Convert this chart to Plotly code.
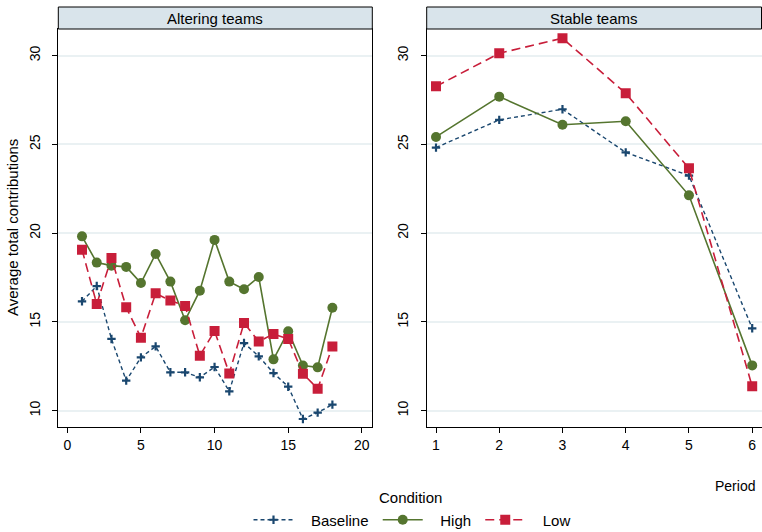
import plotly.graph_objects as go

periods_alt = list(range(1, 19))
baseline_alt = [16.16, 17.02, 14.04, 11.69, 13.00, 13.62, 12.16, 12.16, 11.88, 12.46,
                11.09, 13.81, 13.06, 12.12, 11.35, 9.53, 9.89, 10.34]
high_alt = [19.82, 18.34, 18.17, 18.10, 17.19, 18.83, 17.27, 15.09, 16.76, 19.62,
            17.27, 16.84, 17.53, 12.89, 14.47, 12.54, 12.44, 15.80]
low_alt = [19.07, 16.01, 18.60, 15.82, 14.11, 16.61, 16.20, 15.90, 13.10, 14.49,
           12.10, 14.94, 13.89, 14.32, 14.04, 12.08, 11.24, 13.61]

periods_stb = [1, 2, 3, 4, 5, 6]
baseline_stb = [24.82, 26.38, 26.98, 24.55, 23.24, 14.64]
high_stb = [25.42, 27.69, 26.11, 26.30, 22.13, 12.55]
low_stb = [28.27, 30.13, 30.98, 27.88, 23.65, 11.37]

panel_titles = ["Altering teams", "Stable teams"]
series_names = ["Baseline", "High", "Low"]
y_ticks = [10, 15, 20, 25, 30]
x_ticks_alt = [0, 5, 10, 15, 20]
x_ticks_stb = [1, 2, 3, 4, 5, 6]

BLUE = "rgb(26,71,111)"
GREEN = "rgb(85,117,47)"
RED = "rgb(200,30,58)"
FONT = "Liberation Sans, Arial, sans-serif"

styles = {
    "Baseline": dict(line=dict(color=BLUE, width=1.4, dash="4px,3px"),
                     marker=dict(symbol="cross-thin", size=6, color=BLUE,
                                 line=dict(color=BLUE, width=2.2))),
    "High": dict(line=dict(color=GREEN, width=1.6),
                 marker=dict(symbol="circle", size=10, color=GREEN)),
    "Low": dict(line=dict(color=RED, width=1.6, dash="9px,5px"),
                marker=dict(symbol="square", size=10, color=RED)),
}

NB = "\u00a0"
fig = go.Figure()
data_alt = {"Baseline": baseline_alt, "High": high_alt, "Low": low_alt}
data_stb = {"Baseline": baseline_stb, "High": high_stb, "Low": low_stb}
for name in series_names:
    fig.add_trace(go.Scatter(x=periods_alt, y=data_alt[name], mode="lines+markers",
                             name=NB * 3 + name + NB, xaxis="x", yaxis="y",
                             showlegend=True, **styles[name]))
for name in series_names:
    fig.add_trace(go.Scatter(x=periods_stb, y=data_stb[name], mode="lines+markers",
                             name=name, xaxis="x2", yaxis="y2", showlegend=False,
                             **styles[name]))

W, H = 762, 532
L1, R1 = 58.3, 372.3
L2, R2 = 426.7, 761.5
TOP, BOT = 29, 427
STRIP_TOP = 7

def px(x):
    return x / W

def py(y):
    return 1 - y / H

axis_common = dict(showline=True, linecolor="black", linewidth=1, mirror=True,
                   ticks="outside", ticklen=5, tickcolor="black",
                   tickfont=dict(family=FONT, size=14, color="black"),
                   zeroline=False, automargin=False)
yrange = [9.08, 31.5]

fig.update_layout(
    template="none",
    width=W, height=H, autosize=False,
    margin=dict(l=0, r=0, t=0, b=0, pad=0, autoexpand=False),
    paper_bgcolor="white", plot_bgcolor="white",
    font=dict(family=FONT, size=14, color="black"),
    xaxis=dict(domain=[px(L1), px(R1)], range=[-0.61, 20.71], tickvals=x_ticks_alt,
               showgrid=False, anchor="y", **axis_common),
    yaxis=dict(domain=[py(BOT), py(TOP)], range=yrange, tickvals=y_ticks,
               tickangle=-90, ticklabelstandoff=7, showgrid=True,
               gridcolor="rgb(234,241,243)", gridwidth=1.5,
               anchor="x", **axis_common),
    xaxis2=dict(domain=[px(L2), px(R2)], range=[0.853, 6.147], tickvals=x_ticks_stb,
                showgrid=False, anchor="y2", **axis_common),
    yaxis2=dict(domain=[py(BOT), py(TOP)], range=yrange, tickvals=y_ticks,
                tickangle=-90, ticklabelstandoff=7, showgrid=True,
                gridcolor="rgb(234,241,243)", gridwidth=1.5,
                anchor="x2", **axis_common),
    legend=dict(orientation="h", x=px(414), xanchor="center", y=py(520), yanchor="middle",
                xref="paper", yref="paper",
                font=dict(family=FONT, size=15, color="black"), itemwidth=40,
                bgcolor="rgba(0,0,0,0)", borderwidth=0, tracegroupgap=0),
    showlegend=True,
)

shapes = []
annotations = []
for (l, r), title in zip([(L1, R1), (L2, R2)], panel_titles):
    shapes.append(dict(type="rect", xref="paper", yref="paper",
                       x0=px(l), x1=px(r), y0=py(TOP), y1=py(STRIP_TOP),
                       fillcolor="rgb(217,228,235)", line=dict(color="black", width=1)))
    annotations.append(dict(text=title, xref="paper", yref="paper",
                            x=px((l + r) / 2), y=py((TOP + STRIP_TOP) / 2),
                            xanchor="center", yanchor="middle", showarrow=False,
                            font=dict(family=FONT, size=15, color="black")))
annotations.append(dict(text="Average total contributions", xref="paper", yref="paper",
                        x=px(12), y=py((TOP + BOT) / 2), textangle=-90,
                        xanchor="center", yanchor="middle", showarrow=False,
                        font=dict(family=FONT, size=15, color="black")))
annotations.append(dict(text="Period", xref="paper", yref="paper", x=px(757), y=py(486),
                        xanchor="right", yanchor="middle", showarrow=False,
                        font=dict(family=FONT, size=14, color="black")))
annotations.append(dict(text="Condition", xref="paper", yref="paper", x=px(410), y=py(497),
                        xanchor="center", yanchor="middle", showarrow=False,
                        font=dict(family=FONT, size=15, color="black")))
fig.update_layout(shapes=shapes, annotations=annotations)

fig.write_html(
    "out.html",
    config={"displayModeBar": False, "responsive": False},
    post_script="document.body.style.margin='0px';document.body.style.overflow='hidden';",
)
